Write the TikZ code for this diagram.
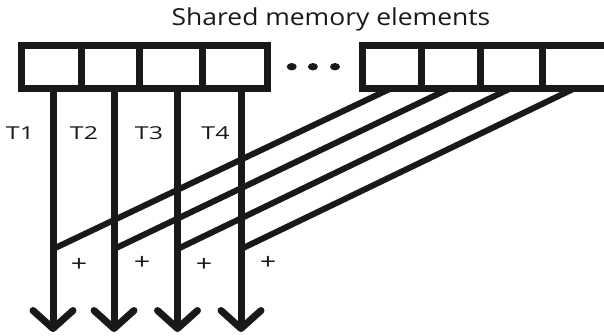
\documentclass[tikz,border=0pt]{standalone}
\usepackage{fontspec}
\usepackage{graphicx}
\usetikzlibrary{arrows.meta,calc}
\newfontfamily\titlefont[FakeStretch=1.13]{Open Sans}
\newfontfamily\labelfont[FakeStretch=1.4]{Open Sans}
\newfontfamily\plusfont[FakeStretch=1.3]{Open Sans}
\tikzset{
  cell/.style={draw=black!90, line width=7pt, rectangle, inner sep=0pt, outer sep=0pt, minimum height=43pt},
  thread/.style={draw=black!90, line width=7pt, -{Straight Barb[length=18pt,width=40pt,round]}},
  feed/.style={draw=black!90, line width=6pt},
  tlabel/.style={font=\labelfont\fontsize{17.8}{20}\selectfont, inner sep=0pt, text=black!90},
  plabel/.style={font=\plusfont\fontsize{22}{24}\selectfont, inner sep=0pt, text=black!90},
}
\begin{document}
\begin{tikzpicture}[x=1pt,y=-1pt]
\useasboundingbox (0,0) rectangle (604,335);
% title
\node[anchor=base, inner sep=0pt, text=black!90, font=\titlefont\fontsize{23.4}{26}\selectfont] (title) at (331,25) {Shared memory elements};
% left memory cells
\node[cell, minimum width=60pt]   (L1) at (51,66.5) {};
\node[cell, minimum width=58.5pt] (L2) at (110.25,66.5) {};
\node[cell, minimum width=63pt]   (L3) at (171,66.5) {};
\node[cell, minimum width=64.5pt] (L4) at (234.75,66.5) {};
% right memory cells
\node[cell, minimum width=58.5pt] (R1) at (391.75,66.5) {};
\node[cell, minimum width=59pt]   (R2) at (450.5,66.5) {};
\node[cell, minimum width=62.5pt] (R3) at (511.25,66.5) {};
\node[cell, minimum width=65.5pt] (R4) at (575.25,66.5) {};
% dots
\fill[black!90] (291.7,66.7) ellipse [x radius=5pt, y radius=3.7pt];
\fill[black!90] (312.9,66.7) ellipse [x radius=5pt, y radius=3.7pt];
\fill[black!90] (335,66.7) ellipse [x radius=5pt, y radius=3.7pt];
% thread line ends
\coordinate (a1) at (53,88);    \coordinate (b1) at (53,332);
\coordinate (a2) at (114,88);   \coordinate (b2) at (114,332);
\coordinate (a3) at (177.5,88); \coordinate (b3) at (177.5,332);
\coordinate (a4) at (241,88);   \coordinate (b4) at (241,332);
\coordinate (m1) at (53,249);
\coordinate (m2) at (114,249);
\coordinate (m3) at (177.5,249);
\coordinate (m4) at (241,249);
% diagonal feeds
\draw[feed] (R1.south) -- (m1);
\draw[feed] (R2.south) -- (m2);
\draw[feed] (R3.south) -- (m3);
\draw[feed] (R4.south) -- (m4);
% threads
\draw[thread] (a1) -- (b1);
\draw[thread] (a2) -- (b2);
\draw[thread] (a3) -- (b3);
\draw[thread] (a4) -- (b4);
% labels
\node[tlabel] (T1) at (20,133) {T1};
\node[tlabel] (T2) at (84,133) {T2};
\node[tlabel] (T3) at (149,133) {T3};
\node[tlabel] (T4) at (215.5,133) {T4};
\node[plabel] (p1) at (79,265) {+};
\node[plabel] (p2) at (142,263) {+};
\node[plabel] (p3) at (204,265) {+};
\node[plabel] (p4) at (268,263) {+};
\end{tikzpicture}
\end{document}
